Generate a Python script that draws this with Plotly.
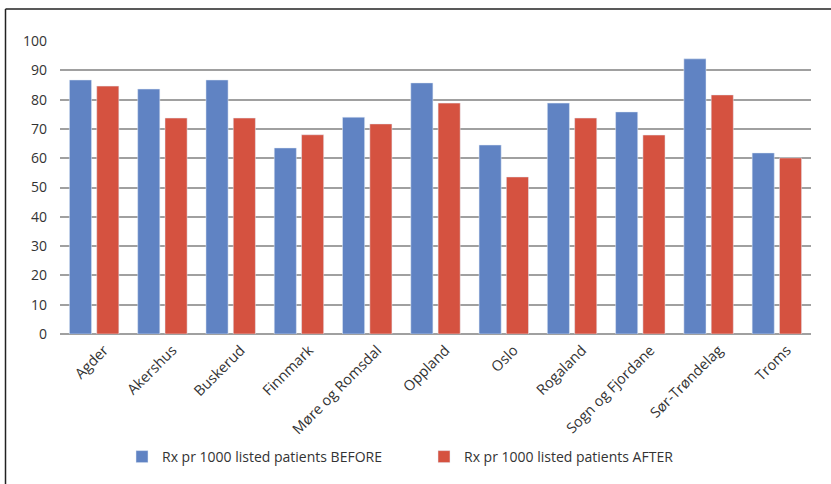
import plotly.graph_objects as go

categories = ["Agder", "Akershus", "Buskerud", "Finnmark", "Møre og Romsdal", "Oppland",
              "Oslo", "Rogaland", "Sogn og Fjordane", "Sør-Trøndelag", "Troms"]
before = [86.7, 83.6, 86.7, 63.5, 74.0, 85.7, 64.5, 78.8, 75.8, 93.9, 61.8]
after = [84.6, 73.7, 73.7, 68.0, 71.7, 78.8, 53.6, 73.7, 67.9, 81.6, 60.1]
name_before = "Rx pr 1000 listed patients BEFORE"
name_after = "Rx pr 1000 listed patients AFTER"
yticks = [0, 10, 20, 30, 40, 50, 60, 70, 80, 90, 100]

W, H = 831, 484
ml, mr, mt, mb = 60, 20, 41, 150
pw, ph = W - ml - mr, H - mt - mb

def px_x(p):
    return (p - ml) / pw

def px_y(p):
    return (H - mb - p) / ph

font_family = "Open Sans, Noto Sans, sans-serif"

fig = go.Figure()
fig.add_trace(go.Bar(x=categories, y=before, name=name_before, marker_color="#6083c3"))
fig.add_trace(go.Bar(x=categories, y=after, name=name_after, marker_color="#d55240"))

fig.update_layout(
    width=W, height=H,
    margin=dict(l=ml, r=mr, t=mt, b=mb, autoexpand=False),
    paper_bgcolor="white", plot_bgcolor="white",
    barmode="group", bargap=0.2, bargroupgap=0.19,
    font=dict(family=font_family, size=14, color="#333333"),
    showlegend=True,
    legend=dict(orientation="h", x=px_x(122), y=px_y(457), xanchor="left", yanchor="middle",
                entrywidth=257, entrywidthmode="pixels",
                font=dict(size=14, color="#333333"), bgcolor="rgba(0,0,0,0)"),
    xaxis=dict(tickangle=-45, showgrid=False, showline=False, ticks="",
               tickfont=dict(size=14.5, color="#333333"), ticklabelshift=10, ticklabelstandoff=4),
    yaxis=dict(range=[0, 100], tickvals=yticks, showgrid=True, gridcolor="#a0a0a0", gridwidth=1.6,
               zeroline=True, zerolinecolor="#a0a0a0", zerolinewidth=1.6,
               ticks="", showline=False, tickfont=dict(size=14, color="#333333"), ticklabelstandoff=12),
    shapes=[
        dict(type="line", xref="paper", yref="paper", x0=px_x(5.5), x1=px_x(5.5), y0=px_y(9), y1=px_y(490),
             line=dict(color="#222222", width=1.5)),
        dict(type="line", xref="paper", yref="paper", x0=px_x(5.5), x1=px_x(840), y0=px_y(9), y1=px_y(9),
             line=dict(color="#222222", width=1.5)),
    ],
)

fig.write_html("out.html", config={"displayModeBar": False},
               post_script="document.body.style.margin='0';document.body.style.overflow='hidden';")
